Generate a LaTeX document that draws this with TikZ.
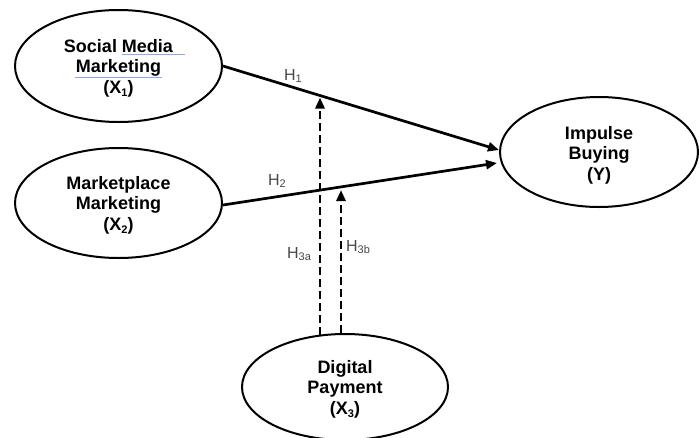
\documentclass[tikz,border=0pt]{standalone}
\usepackage{fontspec}
\setmainfont{Liberation Sans}
\usetikzlibrary{shapes.geometric,arrows.meta}
\newcommand{\lsub}[1]{\raisebox{-0.3ex}{\fontsize{11}{11}\selectfont #1}}
\newcommand{\hsub}[1]{\raisebox{-0.3ex}{\fontsize{11}{11}\selectfont #1}}
\definecolor{spell}{HTML}{8FA8E0}
\begin{document}
\begin{tikzpicture}[x=1pt,y=-1pt,
  var/.style={ellipse,draw,line width=2pt,inner sep=0pt},
  vtext/.style={align=center,inner sep=0pt,
    font=\fontsize{18}{20.5}\selectfont\bfseries},
  pathline/.style={line width=2.7pt,-{Triangle[length=11pt,width=9pt]}},
  modline/.style={line width=2.8pt,dash pattern=on 8pt off 4pt,
    -{Triangle[length=11pt,width=9pt]}},
  hlab/.style={font=\fontsize{16}{16}\selectfont,text=black!72,inner sep=0pt}]
\useasboundingbox (0,0) rectangle (699,437);
\node[var,minimum width=207pt,minimum height=112pt] (sm) at (118.5,66) {};
\node[vtext] (smt) at (118.5,68) {Social Media\\Marketing\\(X\lsub{1})};
\node[var,minimum width=207pt,minimum height=110pt] (mp) at (118.5,203) {};
\node[vtext] (mpt) at (118.5,205) {Marketplace\\Marketing\\(X\lsub{2})};
\node[var,minimum width=198pt,minimum height=110pt] (ib) at (599,152) {};
\node[vtext] (ibt) at (599,155) {Impulse\\Buying\\(Y)};
\node[var,minimum width=206pt,minimum height=106pt] (dp) at (345,387) {};
\node[vtext] (dpt) at (345,389) {Digital\\Payment\\(X\lsub{3})};
% spell-check underlines
\draw[spell,line width=1pt] (122,54) -- (185,54);
\draw[spell,line width=1pt] (75,77.5) -- (162,77.5);
% direct paths
\draw[pathline] (sm.east) -- ([yshift=2pt]ib.west);
\draw[pathline] ([yshift=-2pt]mp.east) -- ([xshift=-2pt,yshift=-11pt]ib.west);
% moderation
\coordinate (ta) at (320,97.5);
\coordinate (tb) at (341,190);
\draw[modline] ([xshift=-25pt,yshift=-1.5pt]dp.north) -- (ta);
\draw[modline] ([xshift=-4pt]dp.north) -- (tb);
% labels
\node[hlab] (h1) at (293,76) {H\hsub{1}};
\node[hlab] (h2) at (277,181) {H\hsub{2}};
\node[hlab] (h3a) at (299,254) {H\hsub{3a}};
\node[hlab] (h3b) at (358,247) {H\hsub{3b}};
\end{tikzpicture}
\end{document}
